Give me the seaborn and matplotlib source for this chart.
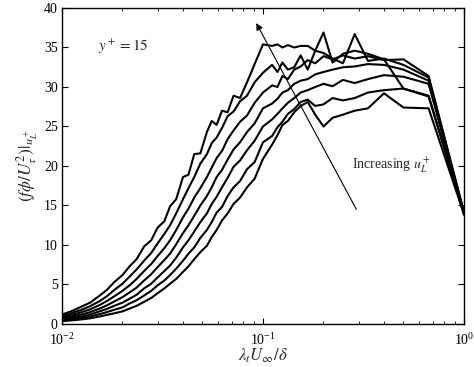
import matplotlib
matplotlib.use("Agg")
import matplotlib.pyplot as plt
import seaborn as sns
import pandas as pd
from matplotlib.ticker import LogLocator, NullFormatter

# wavelength axis  lambda_t U_inf / delta
wavelength = [0.01, 0.0111, 0.0125, 0.0138, 0.0154, 0.0167, 0.0182, 0.02, 0.0217, 0.0235,
              0.0256, 0.0278, 0.0299, 0.0323, 0.0345, 0.0370, 0.04, 0.0426, 0.0455, 0.0488,
              0.0526, 0.0556, 0.0588, 0.0625, 0.0667, 0.0714, 0.0769, 0.0833, 0.0909, 0.1,
              0.111, 0.118, 0.125, 0.133, 0.143, 0.154, 0.167, 0.182, 0.2, 0.222,
              0.25, 0.286, 0.333, 0.4, 0.5, 0.667, 1.0]

curve1 = [1.2, 1.6, 2.2, 2.7, 3.6, 4.3, 5.3, 6.2, 7.3, 8.2,
          9.8, 10.6, 12.2, 13.0, 14.9, 15.8, 18.6, 18.9, 21.5, 21.6,
          24.3, 25.7, 25.2, 27.0, 26.8, 28.9, 28.6, 30.6, 32.9, 35.4,
          35.2, 35.4, 35.0, 35.3, 35.0, 35.2, 35.2, 34.6, 36.9, 33.1,
          34.2, 34.6, 34.2, 33.5, 29.8, 28.9, 14.0]
curve2 = [1.0, 1.35, 1.8, 2.25, 2.9, 3.5, 4.3, 5.1, 6.0, 6.9,
          8.0, 9.0, 10.2, 11.4, 12.5, 14.0, 15.8, 17.2, 18.6, 20.3,
          21.5, 22.9, 23.6, 24.8, 26.3, 26.9, 28.2, 28.9, 30.6, 31.8,
          32.8, 31.9, 33.1, 32.2, 32.5, 34.0, 32.2, 34.6, 34.3, 33.6,
          33.0, 36.7, 33.3, 33.6, 32.8, 31.2, 14.2]
curve3 = [0.85, 1.1, 1.5, 1.85, 2.4, 2.9, 3.5, 4.2, 4.9, 5.7,
          6.7, 7.6, 8.6, 9.6, 10.6, 11.9, 13.5, 14.6, 16.0, 17.2,
          18.6, 19.8, 21.0, 21.9, 23.4, 24.5, 25.6, 26.4, 28.0, 29.3,
          30.2, 30.0, 31.4, 31.0, 32.2, 32.6, 33.4, 33.0, 33.9, 33.5,
          34.0, 33.6, 33.9, 33.4, 33.5, 31.4, 14.0]
curve4 = [0.7, 0.9, 1.2, 1.5, 1.95, 2.35, 2.85, 3.4, 4.0, 4.6,
          5.5, 6.3, 7.2, 8.1, 8.9, 10.1, 11.5, 12.5, 13.7, 15.0,
          16.2, 17.3, 18.6, 19.5, 20.8, 22.1, 23.0, 24.3, 25.4, 27.3,
          27.9, 28.5, 29.3, 29.6, 30.4, 30.8, 31.0, 31.6, 31.9, 32.2,
          32.5, 32.6, 32.9, 32.8, 32.2, 30.8, 13.8]
curve5 = [0.6, 0.75, 0.95, 1.2, 1.6, 1.9, 2.3, 2.7, 3.2, 3.7,
          4.5, 5.1, 5.9, 6.7, 7.4, 8.4, 9.7, 10.6, 11.7, 12.9,
          14.0, 15.2, 16.1, 17.3, 18.5, 19.9, 20.7, 22.0, 23.2, 25.0,
          25.9, 26.6, 27.3, 28.0, 28.6, 29.3, 29.6, 30.0, 30.4, 30.1,
          30.9, 30.5, 31.0, 31.5, 31.3, 30.4, 14.1]
curve6 = [0.45, 0.58, 0.75, 0.95, 1.25, 1.5, 1.8, 2.1, 2.6, 3.0,
          3.6, 4.2, 4.9, 5.5, 6.2, 7.0, 8.0, 8.9, 9.7, 10.9,
          11.9, 12.9, 14.1, 14.8, 16.2, 17.3, 18.1, 19.6, 20.5, 23.0,
          23.8, 24.9, 25.6, 26.6, 27.2, 28.1, 28.4, 27.6, 27.8, 28.6,
          28.3, 28.6, 29.3, 29.6, 29.8, 28.8, 14.0]
curve7 = [0.35, 0.45, 0.58, 0.72, 0.95, 1.15, 1.35, 1.6, 1.95, 2.3,
          2.8, 3.3, 3.9, 4.5, 5.1, 5.7, 6.6, 7.3, 8.2, 9.1,
          9.9, 11.0, 11.9, 13.1, 14.0, 15.2, 16.0, 17.3, 18.4, 20.9,
          22.7, 23.9, 25.2, 25.7, 26.8, 27.6, 28.1, 26.5, 25.0, 26.1,
          26.5, 27.0, 27.3, 29.2, 27.4, 27.3, 13.9]

curves = [curve1, curve2, curve3, curve4, curve5, curve6, curve7]
y_ticks = [0, 5, 10, 15, 20, 25, 30, 35, 40]

rows = []
for k, c in enumerate(curves):
    for xv, yv in zip(wavelength, c):
        rows.append({"x": xv, "y": yv, "curve": f"c{k+1}"})
df = pd.DataFrame(rows)

sns.set_theme(style="ticks")
plt.rcParams["font.family"] = ["Liberation Serif", "DejaVu Serif"]
plt.rcParams["mathtext.fontset"] = "stix"

fig = plt.figure(figsize=(4.74, 3.67), dpi=100)
ax = fig.add_axes([0.1308, 0.1172, 0.848, 0.861])

sns.lineplot(data=df, x="x", y="y", hue="curve", palette=["black"] * 7,
             estimator=None, sort=False, legend=False, linewidth=1.5, ax=ax)

ax.set_xscale("log")
ax.set_xlim(0.01, 1.0)
ax.set_ylim(0, 40)
ax.set_yticks(y_ticks)
ax.xaxis.set_minor_locator(LogLocator(base=10, subs=range(2, 10)))
ax.xaxis.set_minor_formatter(NullFormatter())

ax.tick_params(which="both", direction="in", top=True, right=True, colors="black",
               labelsize=10)
ax.tick_params(axis="x", which="both", pad=6)
ax.tick_params(axis="y", which="both", pad=3)
ax.tick_params(which="major", length=4, width=0.8)
ax.tick_params(which="minor", length=2, width=0.6)
for s in ax.spines.values():
    s.set_color("black")
    s.set_linewidth(1.0)

ax.set_xlabel(r"$\lambda_t U_\infty/\delta$", fontsize=12, labelpad=-1)
ax.set_ylabel(r"$(f\phi/U_\tau^2)|_{u_L^+}$", fontsize=12.5, labelpad=3)

ax.annotate("", xy=(0.0912, 38.4), xytext=(0.296, 14.2),
            arrowprops=dict(arrowstyle="-|>", color="black", lw=0.8, mutation_scale=10))
ax.text(0.0151, 35.1, r"$y^+ = 15$", fontsize=11, va="center", ha="left")
ax.text(0.277, 20.1, r"Increasing $u_L^+$", fontsize=10, va="center", ha="left")

fig.savefig("out.png", dpi=100)
